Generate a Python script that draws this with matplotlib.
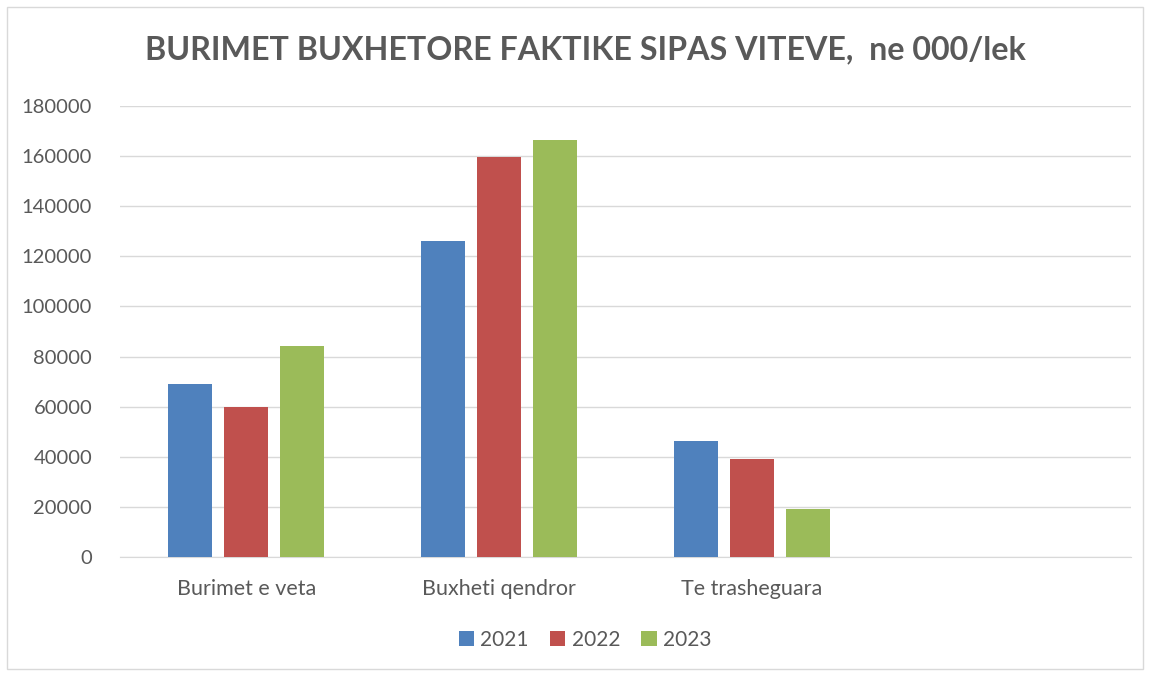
import matplotlib
matplotlib.use("Agg")
import matplotlib.pyplot as plt
import numpy as np
from matplotlib.patches import Rectangle

categories = ["Burimet e veta", "Buxheti qendror", "Te trasheguara", ""]
years = ["2021", "2022", "2023"]
v2021 = [68900, 126200, 46400, 0]
v2022 = [59700, 159500, 39000, 0]
v2023 = [84300, 166600, 19000, 0]
colors = ["#4f81bd", "#c0504d", "#9bbb59"]
title = "BURIMET BUXHETORE FAKTIKE SIPAS VITEVE,  ne 000/lek"

plt.rcParams['font.family'] = ['Lato', 'DejaVu Sans']
fig = plt.figure(figsize=(11.49, 6.76), dpi=100)
ax = fig.add_axes([120/1149, 1-557/676, (1131-120)/1149, (557-106)/676])

x = np.arange(len(categories))
w = 0.174
off = 0.2216
for i, (vals, yr) in enumerate(zip([v2021, v2022, v2023], years)):
    ax.bar(x + (i-1)*off, vals, width=w, color=colors[i], label=yr, zorder=3)

ax.set_xlim(-0.5, 3.5)
ax.set_ylim(0, 180000)
ax.set_yticks(np.arange(0, 180001, 20000))
ax.yaxis.grid(True, color="#d9d9d9", linewidth=1, zorder=0)
for s in ["top", "right", "left"]:
    ax.spines[s].set_visible(False)
ax.spines["bottom"].set_color("#d9d9d9")
ax.set_xticks(x)
ax.set_xticklabels(categories)
ax.tick_params(axis="both", length=0, colors="#595959")
ax.tick_params(axis="x", pad=16, labelsize=15.5)
ax.tick_params(axis="y", pad=20, labelsize=14.5)

fig.text(585/1149, 1-50/676, title, ha="center", va="center", fontsize=23.2,
         fontweight="bold", color="#595959")

leg = fig.legend(loc="center", bbox_to_anchor=(585/1149, 1-640/676), ncol=3,
                 frameon=False, fontsize=15, handlelength=0.75, handleheight=0.75,
                 columnspacing=1.0, handletextpad=0.3)
for t in leg.get_texts():
    t.set_color("#595959")

fig.patches.append(Rectangle((7/1149, 7/676), 1136/1149, 662/676, transform=fig.transFigure,
                             fill=False, edgecolor="#d9d9d9", linewidth=1))
fig.savefig("out.png", dpi=100)
